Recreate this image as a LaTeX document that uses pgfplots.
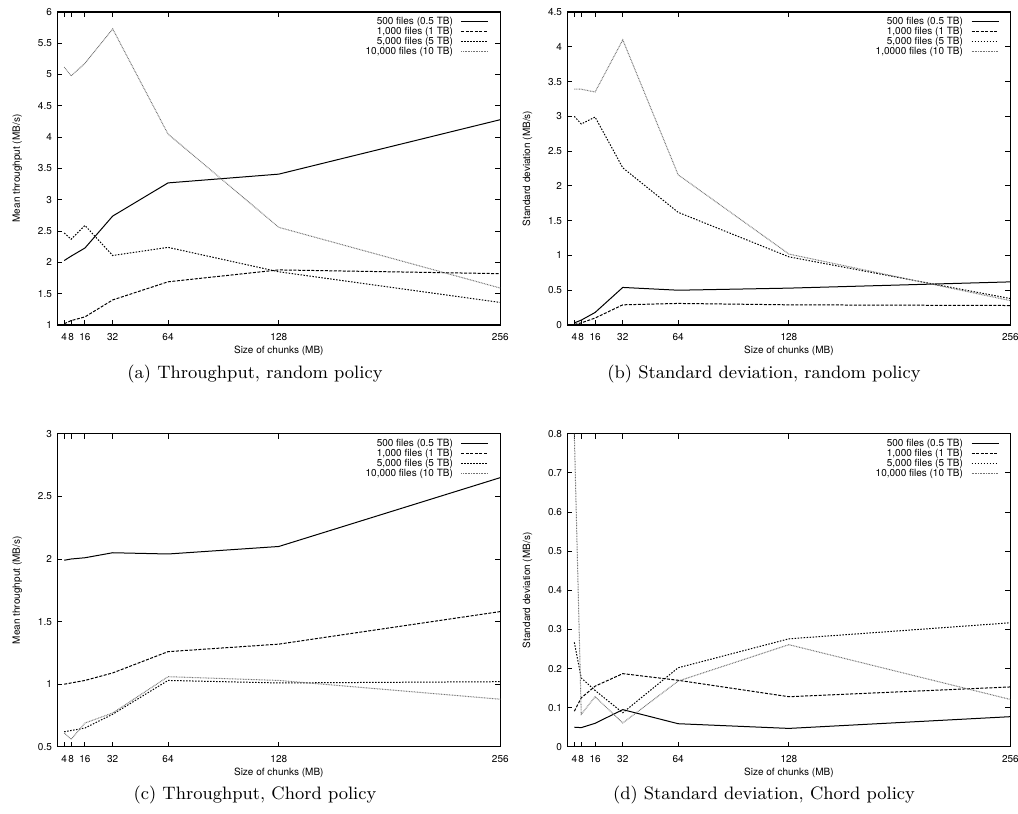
\documentclass[border=0pt]{standalone}
\usepackage{pgfplots}
\pgfplotsset{compat=1.18}
\usepackage{fontspec}
\setsansfont{TeX Gyre Heros}

\newcommand{\gpfont}{\sffamily\fontsize{5}{5}\selectfont}

\pgfplotsset{
  gp/.style={
    scale only axis,
    width=221.5pt, height=156.5pt,
    anchor=south west,
    xmin=0, xmax=256,
    xtick={4,8,16,32,64,128,256},
    tick align=inside,
    major tick length=2.5pt,
    axis line style={line width=0.6pt},
    every tick/.style={black, line width=0.5pt},
    tick label style={font=\gpfont},
    /pgf/number format/assume math mode=true,
    xticklabel style={inner sep=0pt, yshift=-4pt},
    yticklabel style={inner sep=0pt, xshift=-2.5pt},
    xlabel={Size of chunks (MB)},
    every axis x label/.style={at={(axis description cs:0.5,0)}, yshift=-14.5pt, anchor=base, font=\gpfont},
    every axis y label/.style={at={(axis description cs:0,0.5)}, xshift=-20pt, rotate=90, anchor=center, font=\gpfont},
    legend plot pos=right,
    legend cell align=right,
    legend image code/.code={\draw[##1] (0pt,0pt) -- (13.5pt,0pt);},
    legend style={draw=none, fill=none, font=\gpfont,
      at={(rel axis cs:1,1)}, anchor=north east,
      xshift=-5.5pt, yshift=-2.2pt, inner sep=0pt,
      row sep=0pt, column sep=4pt,
      nodes={inner sep=0pt, text height=3.7pt, text depth=1.3pt}},
  },
  s1/.style={black, line width=0.5pt},
  s2/.style={black, line width=0.5pt, dash pattern=on 1.5pt off 0.75pt},
  s3/.style={black, line width=0.5pt, dash pattern=on 0.75pt off 0.75pt},
  s4/.style={black!55, line width=0.5pt, dash pattern=on 0.4pt off 0.4pt},
}

\begin{document}
\begin{tikzpicture}
\useasboundingbox (0,0) rectangle (509pt,407pt);

% (a) throughput, random policy
\begin{axis}[gp, at={(28.65pt,244.5pt)},
  ymin=1, ymax=6, ytick distance=0.5,
  ylabel={Mean throughput (MB/s)}]
\addplot[s1] coordinates {(4,2.03) (8,2.10) (16,2.23) (32,2.74) (64,3.27) (128,3.41) (256,4.28)};
\addlegendentry{500 files (0.5 TB)}
\addplot[s2] coordinates {(4,1.02) (8,1.07) (16,1.13) (32,1.40) (64,1.69) (128,1.88) (256,1.82)};
\addlegendentry{1,000 files (1 TB)}
\addplot[s3] coordinates {(4,2.47) (8,2.37) (16,2.59) (32,2.11) (64,2.24) (128,1.85) (256,1.36)};
\addlegendentry{5,000 files (5 TB)}
\addplot[s4] coordinates {(4,5.12) (8,4.98) (16,5.18) (32,5.73) (64,4.05) (128,2.56) (256,1.59)};
\addlegendentry{10,000 files (10 TB)}
\end{axis}

% (b) standard deviation, random policy
\begin{axis}[gp, at={(283.7pt,244.5pt)},
  ymin=0, ymax=4.5, ytick distance=0.5,
  ylabel={Standard deviation (MB/s)}]
\addplot[s1] coordinates {(4,0.03) (8,0.07) (16,0.18) (32,0.54) (64,0.50) (128,0.53) (256,0.62)};
\addlegendentry{500 files (0.5 TB)}
\addplot[s2] coordinates {(4,0.01) (8,0.03) (16,0.10) (32,0.29) (64,0.31) (128,0.29) (256,0.28)};
\addlegendentry{1,000 files (1 TB)}
\addplot[s3] coordinates {(4,3.00) (8,2.89) (16,2.99) (32,2.26) (64,1.62) (128,0.98) (256,0.38)};
\addlegendentry{5,000 files (5 TB)}
\addplot[s4] coordinates {(4,3.39) (8,3.39) (16,3.35) (32,4.10) (64,2.16) (128,1.02) (256,0.35)};
\addlegendentry{1,0000 files (10 TB)}
\end{axis}

% (c) throughput, Chord policy
\begin{axis}[gp, at={(28.65pt,33.6pt)},
  ymin=0.5, ymax=3, ytick distance=0.5,
  ylabel={Mean throughput (MB/s)}]
\addplot[s1] coordinates {(4,1.99) (8,2.00) (16,2.01) (32,2.05) (64,2.04) (128,2.10) (256,2.65)};
\addlegendentry{500 files (0.5 TB)}
\addplot[s2] coordinates {(4,1.00) (8,1.01) (16,1.03) (32,1.09) (64,1.26) (128,1.32) (256,1.58)};
\addlegendentry{1,000 files (1 TB)}
\addplot[s3] coordinates {(4,0.62) (8,0.63) (16,0.65) (32,0.76) (64,1.03) (128,1.01) (256,1.02)};
\addlegendentry{5,000 files (5 TB)}
\addplot[s4] coordinates {(4,0.61) (8,0.56) (16,0.69) (32,0.77) (64,1.06) (128,1.03) (256,0.88)};
\addlegendentry{10,000 files (10 TB)}
\end{axis}

% (d) standard deviation, Chord policy
\begin{axis}[gp, at={(283.7pt,33.6pt)},
  ymin=0, ymax=0.8, ytick distance=0.1,
  ylabel={Standard deviation (MB/s)}]
\addplot[s1] coordinates {(4,0.050) (8,0.049) (16,0.060) (32,0.095) (64,0.059) (128,0.047) (256,0.077)};
\addlegendentry{500 files (0.5 TB)}
\addplot[s2] coordinates {(4,0.091) (8,0.125) (16,0.155) (32,0.187) (64,0.170) (128,0.128) (256,0.153)};
\addlegendentry{1,000 files (1 TB)}
\addplot[s3] coordinates {(4,0.267) (8,0.176) (16,0.144) (32,0.087) (64,0.202) (128,0.276) (256,0.317)};
\addlegendentry{5,000 files (5 TB)}
\addplot[s4] coordinates {(4,0.80) (8,0.083) (16,0.128) (32,0.061) (64,0.168) (128,0.261) (256,0.121)};
\addlegendentry{10,000 files (10 TB)}
\end{axis}

\begin{scope}[every node/.style={font=\rmfamily\fontsize{9}{10}\selectfont, anchor=base, inner sep=0pt}]
\node at (127.5pt,217.8pt) {(a) Throughput, random policy};
\node at (382pt,217.8pt) {(b) Standard deviation, random policy};
\node at (127.5pt,7pt) {(c) Throughput, Chord policy};
\node at (382pt,7pt) {(d) Standard deviation, Chord policy};
\end{scope}
\end{tikzpicture}
\end{document}
